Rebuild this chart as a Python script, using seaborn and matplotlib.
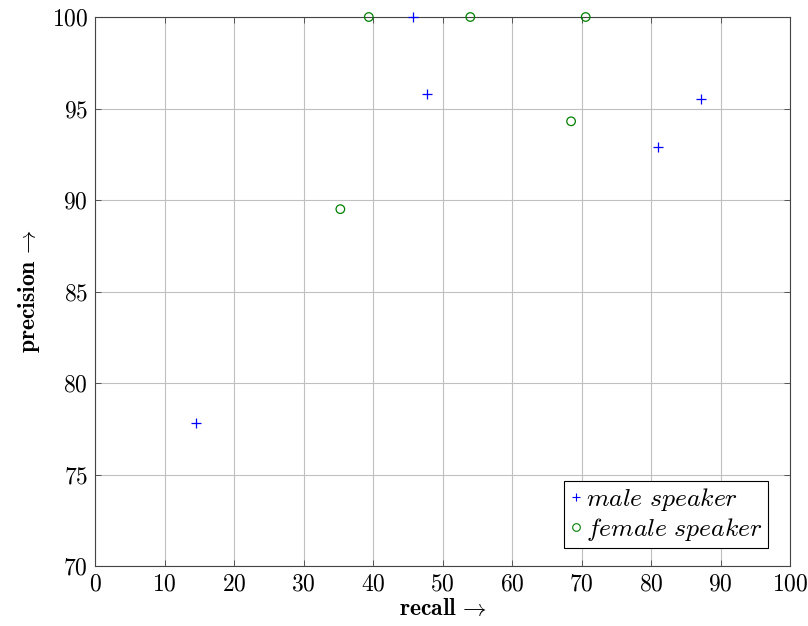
import matplotlib
matplotlib.use("Agg")
import matplotlib.pyplot as plt
import seaborn as sns
import pandas as pd
from matplotlib.lines import Line2D

male_recall = [14.5, 45.7, 47.7, 81.0, 87.2]
male_precision = [77.8, 100.0, 95.8, 92.9, 95.5]
female_recall = [35.3, 39.4, 54.0, 68.5, 70.6]
female_precision = [89.5, 100.0, 100.0, 94.3, 100.0]
x_ticks = [0, 10, 20, 30, 40, 50, 60, 70, 80, 90, 100]
y_ticks = [70, 75, 80, 85, 90, 95, 100]

sns.set_theme(style="white")
plt.rcParams['font.family'] = 'serif'
plt.rcParams['font.serif'] = ['cmr10', 'DejaVu Serif']
plt.rcParams['mathtext.fontset'] = 'cm'
plt.rcParams['axes.formatter.use_mathtext'] = True
plt.rcParams['axes.unicode_minus'] = False
plt.rcParams['text.color'] = 'black'
plt.rcParams['axes.labelcolor'] = 'black'

male = pd.DataFrame({'recall': male_recall, 'precision': male_precision})
female = pd.DataFrame({'recall': female_recall, 'precision': female_precision})

fig = plt.figure(figsize=(8.08, 6.26), dpi=100)
ax = fig.add_axes([95/808, 1 - 566/626, (790-95)/808, (566-17)/626])

ax.set_axisbelow(True)
ax.grid(True, color='#c0c0c0', linewidth=0.8)

sns.scatterplot(data=male, x='recall', y='precision', marker='+', s=45,
                color='blue', linewidth=0.9, ax=ax, clip_on=False, zorder=3)
sns.scatterplot(data=female, x='recall', y='precision', marker='o', s=38,
                facecolors='none', edgecolor='green', linewidth=0.9, ax=ax,
                clip_on=False, zorder=3)

ax.set_xlim(0, 100)
ax.set_ylim(70, 100)
ax.set_xticks(x_ticks)
ax.set_yticks(y_ticks)
ax.tick_params(axis='both', which='both', direction='in', length=4, width=0.6,
               colors='#444444', labelcolor='black', labelsize=17,
               top=True, right=True, bottom=True, left=True, pad=5)
for s in ax.spines.values():
    s.set_visible(True)
    s.set_color('#444444')
    s.set_linewidth(0.8)

ax.set_xlabel(r'$\mathbf{recall}\,\rightarrow$', fontsize=17, labelpad=2, color='black')
ax.set_ylabel(r'$\mathbf{precision}\,\rightarrow$', fontsize=17, labelpad=7, color='black')

handles = [
    Line2D([], [], marker='+', color='blue', linestyle='none', markersize=6, markeredgewidth=0.8),
    Line2D([], [], marker='o', markerfacecolor='none', markeredgecolor='green',
           linestyle='none', markersize=5.5, markeredgewidth=0.8),
]
leg = ax.legend(handles, [r'$\mathit{male\ speaker}$', r'$\mathit{female\ speaker}$'],
                loc='lower right', bbox_to_anchor=(0.968, 0.033),
                fontsize=18.5, frameon=True, fancybox=False,
                edgecolor='black', handlelength=0.5, handletextpad=0.15,
                borderpad=0.2, labelspacing=0.1, borderaxespad=0,
                framealpha=1)
leg.get_frame().set_linewidth(0.8)

fig.savefig('out.png', dpi=100)
